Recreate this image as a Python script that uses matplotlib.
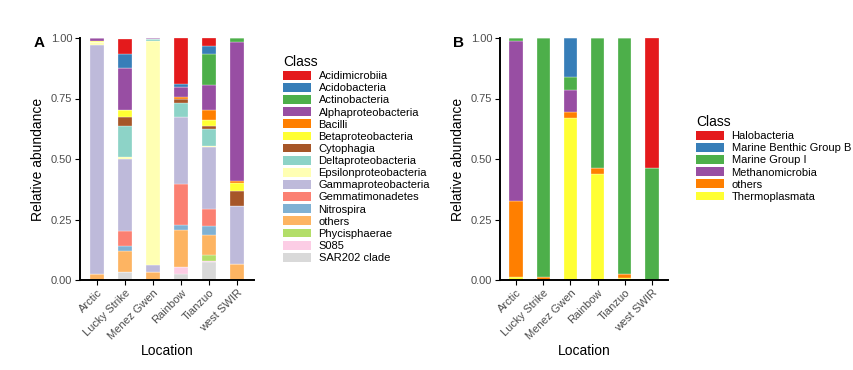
import matplotlib
matplotlib.use("Agg")
import matplotlib.pyplot as plt
from matplotlib.patches import Patch
import numpy as np

plt.rcParams['font.family'] = ['Liberation Sans', 'DejaVu Sans']

locations = ["Arctic", "Lucky Strike", "Menez Gwen", "Rainbow", "Tianzuo", "west SWIR"]

# Panel A: bacterial classes (legend order, top of stack first)
classes_a = ["Acidimicrobiia", "Acidobacteria", "Actinobacteria", "Alphaproteobacteria",
             "Bacilli", "Betaproteobacteria", "Cytophagia", "Deltaproteobacteria",
             "Epsilonproteobacteria", "Gammaproteobacteria", "Gemmatimonadetes",
             "Nitrospira", "others", "Phycisphaerae", "S085", "SAR202 clade"]
colors_a = ["#E41A1C", "#377EB8", "#4DAF4A", "#984EA3", "#FF7F00", "#FFFF33",
            "#A65628", "#8DD3C7", "#FFFFB3", "#BEBADA", "#FB8072", "#80B1D3",
            "#FDB462", "#B3DE69", "#FCCDE5", "#D9D9D9"]
# values per class, per location (Arctic, Lucky Strike, Menez Gwen, Rainbow, Tianzuo, west SWIR)
acidimicrobiia   = [0.000, 0.064, 0.000, 0.190, 0.032, 0.000]
acidobacteria    = [0.000, 0.058, 0.000, 0.014, 0.035, 0.000]
actinobacteria   = [0.000, 0.000, 0.000, 0.000, 0.128, 0.017]
alphaproteo      = [0.013, 0.174, 0.006, 0.040, 0.104, 0.575]
bacilli          = [0.000, 0.000, 0.000, 0.008, 0.041, 0.008]
betaproteo       = [0.005, 0.028, 0.000, 0.000, 0.025, 0.033]
cytophagia       = [0.000, 0.037, 0.000, 0.018, 0.011, 0.062]
deltaproteo      = [0.000, 0.128, 0.007, 0.055, 0.073, 0.000]
epsilonproteo    = [0.012, 0.007, 0.925, 0.000, 0.004, 0.000]
gammaproteo      = [0.945, 0.300, 0.030, 0.280, 0.253, 0.239]
gemmatimonadetes = [0.000, 0.062, 0.000, 0.169, 0.072, 0.000]
nitrospira       = [0.000, 0.021, 0.000, 0.021, 0.035, 0.000]
others_a         = [0.025, 0.086, 0.032, 0.152, 0.083, 0.066]
phycisphaerae    = [0.000, 0.000, 0.000, 0.000, 0.028, 0.000]
s085             = [0.000, 0.000, 0.000, 0.028, 0.004, 0.000]
sar202           = [0.000, 0.032, 0.000, 0.025, 0.073, 0.000]
values_a = [acidimicrobiia, acidobacteria, actinobacteria, alphaproteo, bacilli,
            betaproteo, cytophagia, deltaproteo, epsilonproteo, gammaproteo,
            gemmatimonadetes, nitrospira, others_a, phycisphaerae, s085, sar202]

# Panel B: archaeal classes
classes_b = ["Halobacteria", "Marine Benthic Group B", "Marine Group I",
             "Methanomicrobia", "others", "Thermoplasmata"]
colors_b = ["#E41A1C", "#377EB8", "#4DAF4A", "#984EA3", "#FF7F00", "#FFFF33"]
halobacteria    = [0.000, 0.000, 0.000, 0.000, 0.000, 0.539]
mbgb            = [0.000, 0.000, 0.160, 0.000, 0.000, 0.000]
marine_group_i  = [0.014, 0.986, 0.055, 0.536, 0.975, 0.461]
methanomicrobia = [0.660, 0.000, 0.091, 0.000, 0.000, 0.000]
others_b        = [0.312, 0.014, 0.023, 0.025, 0.017, 0.000]
thermoplasmata  = [0.014, 0.000, 0.671, 0.439, 0.008, 0.000]
values_b = [halobacteria, mbgb, marine_group_i, methanomicrobia, others_b, thermoplasmata]

W, H = 854, 370
fig = plt.figure(figsize=(W / 100, H / 100), dpi=100)

def axes_px(l, r, t, b):
    return fig.add_axes([l / W, 1 - b / H, (r - l) / W, (b - t) / H])

tick_col = "#4D4D4D"

def draw(ax, classes, colors, values):
    x = np.arange(1, len(locations) + 1)
    bottom = np.zeros(len(locations))
    # stack from last class (bottom) to first (top)
    for cls, col, vals in reversed(list(zip(classes, colors, values))):
        v = np.array(vals)
        ax.bar(x, v, width=0.5, bottom=bottom, color=col, edgecolor="white",
               linewidth=0.2)
        bottom += v
    ax.set_xlim(0.4, len(locations) + 0.6)
    ax.set_ylim(0, 1.0)
    ax.set_yticks([0, 0.25, 0.5, 0.75, 1.0])
    ax.set_yticklabels(["0.00", "0.25", "0.50", "0.75", "1.00"])
    ax.set_xticks(x)
    ax.set_xticklabels(locations, rotation=45, ha="right", rotation_mode="anchor")
    for s in ["top", "right"]:
        ax.spines[s].set_visible(False)
    for s in ["left", "bottom"]:
        ax.spines[s].set_linewidth(1.4)
        ax.spines[s].set_color("black")
    ax.tick_params(axis="both", length=3.5, width=0.8, colors="black",
                   labelcolor=tick_col, labelsize=8, pad=2)
    ax.set_ylabel("Relative abundance", fontsize=10, labelpad=4)
    ax.set_xlabel("Location", fontsize=10, labelpad=2)

axA = axes_px(80, 254, 38, 280)
draw(axA, classes_a, colors_a, values_a)
axB = axes_px(500, 668, 38, 280)
draw(axB, classes_b, colors_b, values_b)

fig.text(34 / W, 1 - 43 / H, "A", fontsize=11, fontweight="bold", va="center", ha="left")
fig.text(453 / W, 1 - 43 / H, "B", fontsize=11, fontweight="bold", va="center", ha="left")

def make_legend(classes, colors, x, y):
    handles = [Patch(facecolor=c, edgecolor="none") for c in colors]
    leg = fig.legend(handles, classes, title="Class", loc="upper left",
                     bbox_to_anchor=(x / W, 1 - y / H), frameon=False,
                     fontsize=8, title_fontsize=10, handlelength=2.5,
                     handleheight=0.84, handletextpad=0.7, labelspacing=0.17,
                     borderaxespad=0, borderpad=0)
    leg._legend_box.align = "left"
    return leg

make_legend(classes_a, colors_a, 283, 55)
make_legend(classes_b, colors_b, 696, 115)

fig.savefig("out.png", dpi=100)
